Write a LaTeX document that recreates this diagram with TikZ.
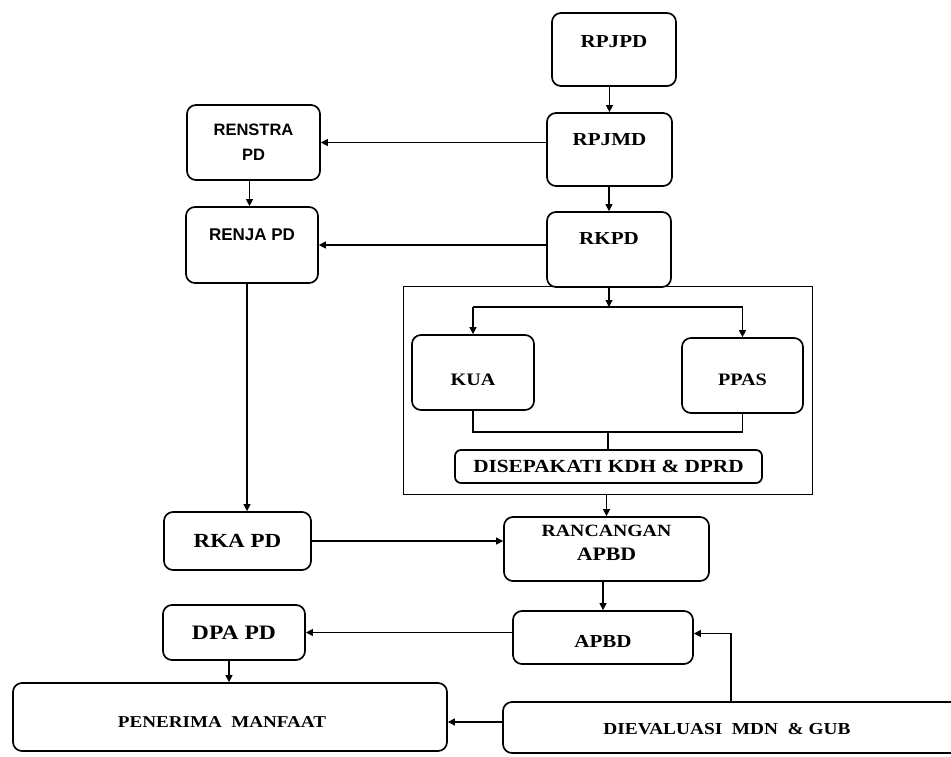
\documentclass[tikz,border=0pt]{standalone}
\usepackage{fontspec}
\setmainfont{Liberation Serif}[FakeStretch=1.15]
\newfontfamily\sansf{Liberation Sans}
\usetikzlibrary{arrows.meta,calc}
\newcommand\fsz[2]{\fontsize{#1}{#2}\selectfont}
\begin{document}
\begin{tikzpicture}[x=1pt,y=-1pt,
  box/.style={draw, line width=1.7pt, rounded corners=9pt, inner sep=0pt, align=center},
  wh/.style 2 args={minimum width=#1, minimum height=#2},
  conn/.style={line width=1.1pt},
  arr/.style={conn, -{Triangle[length=7pt,width=7pt]}},
  lbl/.style={inner sep=0pt}]
\useasboundingbox (0,0) rectangle (951,756);

% boxes
\node[box, wh={124pt}{73pt}, text depth=15pt, font=\bfseries\fsz{18.3}{22}] (rpjpd) at (614,49.5) {RPJPD};
\node[box, wh={125pt}{73pt}, text depth=19pt, font=\bfseries\fsz{18.3}{22}] (rpjmd) at (609.5,149.5) {RPJMD};
\node[box, wh={124pt}{75pt}, text depth=21pt, font=\bfseries\fsz{18.3}{22}] (rkpd) at (609,249.5) {RKPD};
\node[box, wh={133pt}{75pt}, font=\sansf\bfseries\fsz{16.5}{25}] (renstra) at (253.5,142.5) {RENSTRA\\PD};
\node[box, wh={132pt}{76pt}, text depth=20pt, font=\sansf\bfseries\fsz{17}{20}] (renja) at (252,245) {RENJA PD};

\node[draw, line width=0.8pt, wh={409pt}{208pt}, inner sep=0pt] (frame) at (607.5,390) {};
\node[box, wh={122pt}{75pt}, text height=26pt, font=\bfseries\fsz{17.5}{21}] (kua) at (473,372.5) {KUA};
\node[box, wh={121pt}{75pt}, text height=20.6pt, font=\bfseries\fsz{17.5}{21}] (ppas) at (742.5,375.5) {PPAS};
\node[box, rounded corners=6pt, wh={307pt}{33pt}, font=\bfseries\fsz{18.5}{22}] (dis) at (608.5,466.5) {DISEPAKATI KDH \& DPRD};

\node[box, wh={147pt}{58pt}, font=\bfseries\fsz{20}{24}] (rka) at (237.5,541) {RKA PD};
\node[box, wh={205pt}{64pt}, text height=23.4pt, font=\bfseries\fsz{17.2}{24}] (ranc) at (606.5,549) {RANCANGAN\\{\fsz{19}{24}APBD}};
\node[box, wh={180pt}{53pt}, text height=21pt, font=\bfseries\fsz{18.3}{22}] (apbd) at (603,637.5) {APBD};
\node[box, wh={142pt}{55pt}, font=\bfseries\fsz{20.5}{24}] (dpa) at (234,632.5) {DPA PD};
\node[box, wh={434pt}{68pt}] (pen) at (230,717) {};
\node[lbl, font=\bfseries\fsz{16.6}{20}] (pent) at (222,722) {PENERIMA~~MANFAAT};
\node[box, wh={497pt}{51pt}] (dev) at (751.5,727.5) {};
\node[lbl, font=\bfseries\fsz{16.8}{20}] (devt) at (727,729) {DIEVALUASI~~MDN~~\&~GUB};

% connectors
\draw[arr] (rpjmd.north |- rpjpd.south) -- (rpjmd.north);
\draw[arr] (rkpd.north |- rpjmd.south) -- (rkpd.north);
\draw[arr] (renstra.east -| rpjmd.west) -- (renstra.east);
\draw[arr] (renja.east -| rkpd.west) -- (renja.east);
\draw[arr] ([xshift=-4pt]renstra.south) -- ([xshift=-4pt]renstra.south |- renja.north);
\draw[arr] ([xshift=-5pt]renja.south) -- ([xshift=-5pt]renja.south |- rka.north);

\coordinate (split) at (608,307);
\draw[arr] (rkpd.south) -- (rkpd.south |- split);
\draw[conn] (kua.north |- split) -- (ppas.north |- split);
\draw[arr] (kua.north |- split) -- (kua.north);
\draw[arr] (ppas.north |- split) -- (ppas.north);
\coordinate (merge) at (608,432);
\draw[conn] (kua.south) -- (kua.south |- merge) -- (ppas.south |- merge) -- (ppas.south);
\draw[conn] (merge) -- (merge |- dis.north);

\draw[arr] (frame.south -| ranc.north) -- (ranc.north);
\draw[arr] (rka.east) -- (rka.east -| ranc.west);
\draw[arr] (apbd.north |- ranc.south) -- (apbd.north);
\draw[arr] (dpa.east -| apbd.west) -- (dpa.east);
\draw[arr] ([xshift=-5pt]dpa.south) -- ([xshift=-5pt]dpa.south |- pen.north);
\draw[arr] ([yshift=-5pt]pen.east -| dev.west) -- ([yshift=-5pt]pen.east);
\coordinate (dvx) at (731,0);
\draw[arr] (dvx |- dev.north) |- ([yshift=4pt]apbd.east);
\end{tikzpicture}
\end{document}
